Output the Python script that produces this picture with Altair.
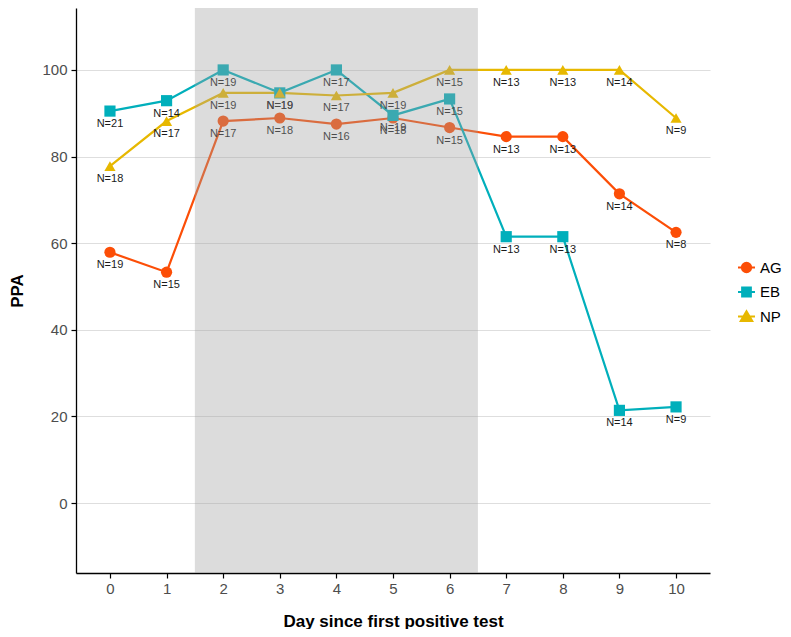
import altair as alt
import pandas as pd

days = list(range(11))
groups = ["AG", "EB", "NP"]
ag_ppa = [57.9, 53.3, 88.2, 88.9, 87.5, 88.9, 86.7, 84.6, 84.6, 71.4, 62.5]
eb_ppa = [90.5, 92.9, 100.0, 94.7, 100.0, 89.5, 93.3, 61.5, 61.5, 21.4, 22.2]
np_ppa = [77.8, 88.2, 94.7, 94.7, 94.1, 94.7, 100.0, 100.0, 100.0, 100.0, 88.9]
ag_n = [19, 15, 17, 18, 16, 18, 15, 13, 13, 14, 8]
eb_n = [21, 14, 19, 19, 17, 19, 15, 13, 13, 14, 9]
np_n = [18, 17, 19, 19, 17, 19, 15, 13, 13, 14, 9]
colors = ["#FC4E07", "#00AFBB", "#E7B800"]
shapes = ["circle", "square", "triangle-up"]
shade_start = [1.5]
shade_end = [6.5]
y_ticks = [0, 20, 40, 60, 80, 100]
x_ticks = days

rows = []
for g, vals, ns in zip(groups, [ag_ppa, eb_ppa, np_ppa], [ag_n, eb_n, np_n]):
    for d, v, n in zip(days, vals, ns):
        rows.append({"day": d, "ppa": v, "group": g, "label": f"N={n}"})
df = pd.DataFrame(rows)
shade_df = pd.DataFrame({"start": shade_start, "end": shade_end})
legend_df = pd.DataFrame({"group": groups})

W, H = 634, 565
FONT = "Liberation Sans"

xs = alt.Scale(domain=[-0.6, 10.6], nice=False, zero=False)
ys = alt.Scale(domain=[-16.15, 114.3], nice=False, zero=False)

x_axis = alt.Axis(title="Day since first positive test", values=x_ticks, grid=False,
                  domainColor="black", domainWidth=1.3, tickColor="black", tickWidth=1.2,
                  tickSize=5, labelFontSize=15, labelColor="#4D4D4D", labelPadding=3,
                  titleFontSize=17, titleFontWeight="bold", titleColor="black",
                  titlePadding=17, labelFont=FONT, titleFont=FONT)
y_axis = alt.Axis(title="PPA", values=y_ticks, grid=True, gridColor="#DEDEDE", gridWidth=1.2,
                  domainColor="black", domainWidth=1.3, tickColor="black", tickWidth=1.2,
                  tickSize=5, labelFontSize=15, labelColor="#4D4D4D", labelPadding=4,
                  titleFontSize=17, titleFontWeight="bold", titleColor="black",
                  titlePadding=15, labelFont=FONT, titleFont=FONT)

# legend keys: a short line through each symbol, as in the reference
key_paths = [
    "M-1.55,0H1.55M0.85,0A0.85,0.85,0,1,1,-0.85,0A0.85,0.85,0,1,1,0.85,0Z",
    "M-1.55,0H1.55M-0.8,-0.8H0.8V0.8H-0.8Z",
    "M-1.55,0H1.55M0,-0.95L1.05,0.8H-1.05Z",
]

legend = alt.Legend(title=None, orient="none", legendX=663, legendY=252, labelFontSize=15,
                    labelFont=FONT, labelColor="black", symbolSize=120, labelOffset=6,
                    rowPadding=6.5, padding=0, symbolStrokeWidth=2, symbolOpacity=1)

color_scale = alt.Scale(domain=groups, range=colors)
color = alt.Color("group:N", scale=color_scale, legend=None)
shape = alt.Shape("group:N", scale=alt.Scale(domain=groups, range=shapes), legend=None)

base = alt.Chart(df).encode(
    x=alt.X("day:Q", scale=xs, axis=x_axis),
    y=alt.Y("ppa:Q", scale=ys, axis=y_axis),
)
lines = base.mark_line(strokeWidth=2.2).encode(color=color, detail="group:N")
points = base.mark_point(filled=True, size=125, opacity=1).encode(color=color, shape=shape)
text = base.mark_text(dy=13, fontSize=11, font=FONT, color="#1A1A1A", baseline="middle").encode(
    text="label:N"
)
rect = alt.Chart(shade_df).mark_rect(color="#A0A0A0", opacity=0.37).encode(
    x=alt.X("start:Q", scale=xs, axis=x_axis),
    x2="end:Q",
)
legend_layer = alt.Chart(legend_df).mark_point(filled=True, opacity=0).encode(
    fill=alt.Fill("group:N", scale=color_scale, legend=legend),
    stroke=alt.Stroke("group:N", scale=color_scale, legend=legend),
    shape=alt.Shape("group:N", scale=alt.Scale(domain=groups, range=key_paths), legend=legend),
)

chart = alt.layer(lines, points, text, rect, legend_layer).resolve_scale(
    shape="independent", fill="independent", stroke="independent"
).properties(
    width=W, height=H,
    background="white",
    autosize=alt.AutoSizeParams(type="none"),
    padding={"left": 68, "top": 0, "right": 73, "bottom": 56},
).configure_view(stroke=None)

chart.save("out.html", embed_options={"renderer": "svg", "actions": False})
